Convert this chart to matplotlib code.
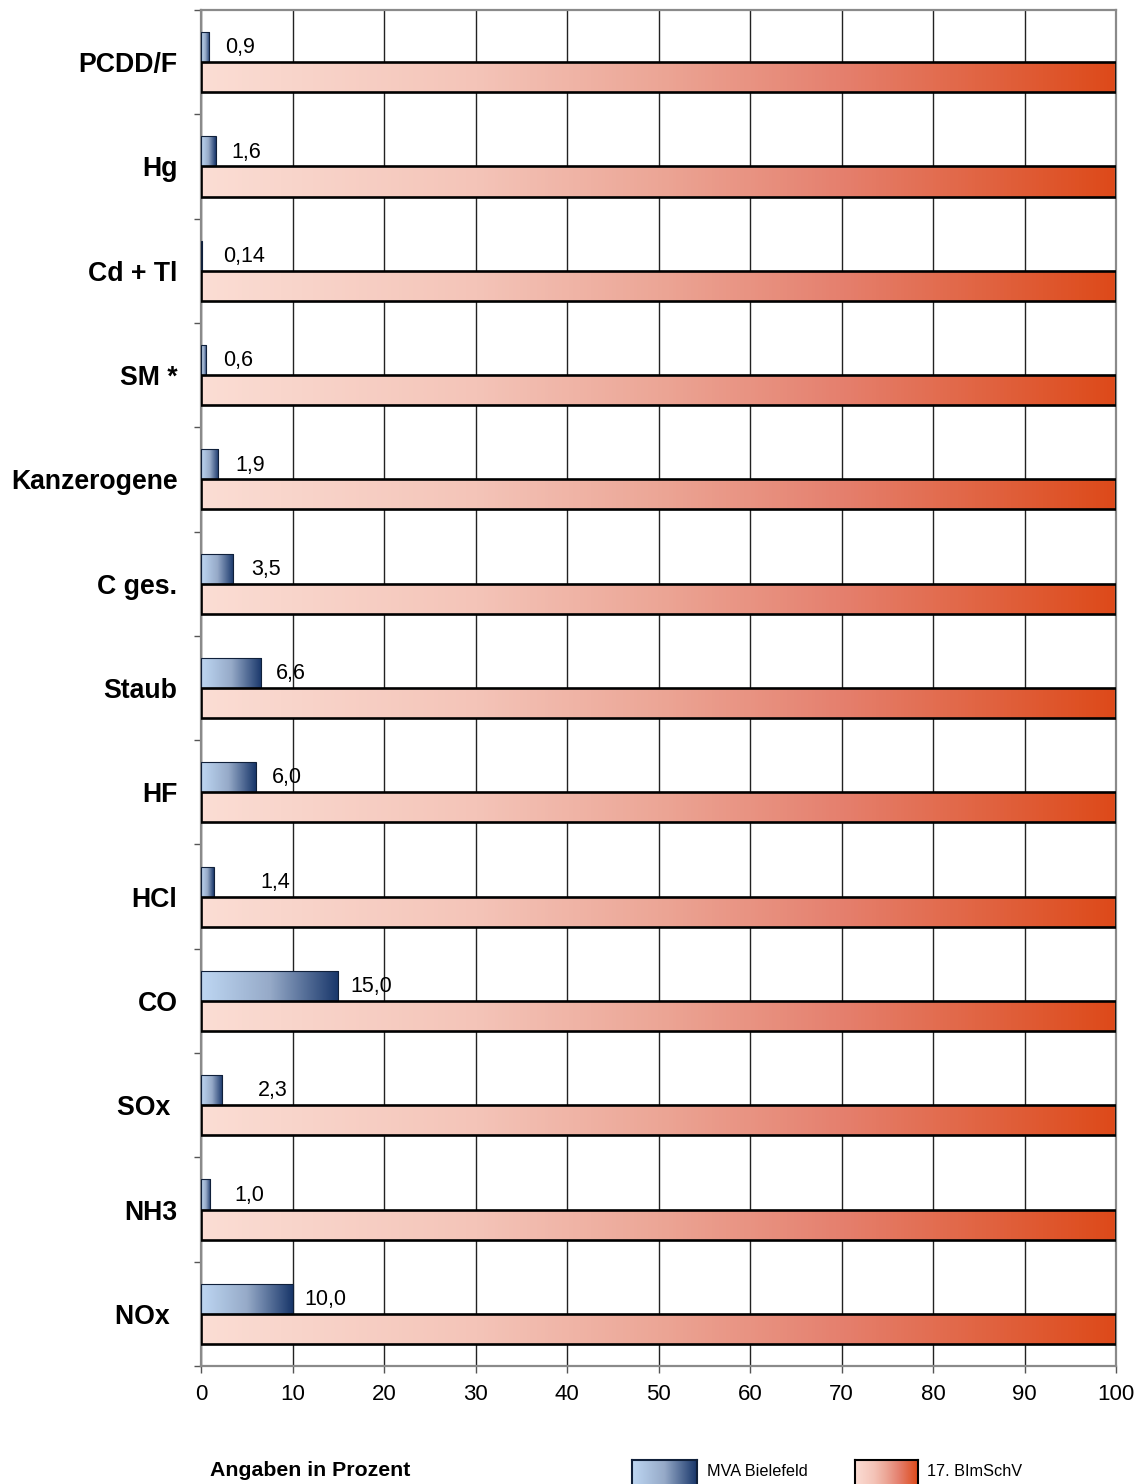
import matplotlib
matplotlib.use("Agg")
import matplotlib.pyplot as plt
import numpy as np
from matplotlib.colors import LinearSegmentedColormap
from matplotlib.ticker import FixedLocator

plt.rcParams['font.family'] = ['Liberation Sans', 'DejaVu Sans']

categories = ["PCDD/F", "Hg", "Cd + Tl", "SM *", "Kanzerogene", "C ges.", "Staub",
              "HF", "HCl", "CO", "SOx ", "NH3", "NOx "]
mva_values = [0.9, 1.6, 0.14, 0.6, 1.9, 3.5, 6.6, 6.0, 1.4, 15.0, 2.3, 1.0, 10.0]
mva_labels = ["0,9", "1,6", "0,14", "0,6", "1,9", "3,5", "6,6", "6,0", "1,4",
              "15,0", "2,3", "1,0", "10,0"]
limit_values = [100] * 13
series_names = ["MVA Bielefeld", "17. BImSchV"]
xticks = [0, 10, 20, 30, 40, 50, 60, 70, 80, 90, 100]

# layout: horizontal gap (pixels) between bar end and its value label
label_gap_px = [16, 16, 21, 16.5, 17, 18, 14, 16, 47, 12, 36, 24, 11.5]

blue_cmap = LinearSegmentedColormap.from_list(
    "blue", [(0.0, (190/255, 215/255, 243/255)), (0.5, (150/255, 170/255, 200/255)),
             (1.0, (24/255, 54/255, 106/255))])
red_cmap = LinearSegmentedColormap.from_list(
    "red", [(0.0, (251/255, 221/255, 212/255)), (0.3, (244/255, 196/255, 184/255)),
            (0.5, (236/255, 166/255, 150/255)), (0.7, (229/255, 128/255, 110/255)),
            (1.0, (221/255, 74/255, 26/255))])

W, H = 1139, 1484
fig = plt.figure(figsize=(W / 100, H / 100), dpi=100)
ax = fig.add_axes([201 / W, 1 - 1366 / H, (1116 - 201) / W, (1366 - 10) / H])

grad = np.linspace(0, 1, 256).reshape(1, -1)


def gradient_bars(bars, cmap):
    for b in bars:
        x0, y0 = b.get_x(), b.get_y()
        w, h = b.get_width(), b.get_height()
        im = ax.imshow(grad, cmap=cmap, aspect='auto', extent=(x0, x0 + w, y0 + h, y0),
                       zorder=2, interpolation='bilinear')
        im.set_clip_path(b)


y = np.arange(len(categories))
bh = 0.288
blue_bars = ax.barh(y - bh / 2, mva_values, height=bh, facecolor='none',
                    edgecolor='#10203a', linewidth=0.8, zorder=3)
red_bars = ax.barh(y + bh / 2, limit_values, height=bh, facecolor='none',
                   edgecolor='black', linewidth=1.9, zorder=3)
gradient_bars(blue_bars, blue_cmap)
gradient_bars(red_bars, red_cmap)

for yi, v, lab, gap in zip(y, mva_values, mva_labels, label_gap_px):
    ax.annotate(lab, xy=(v, yi - bh / 2), xytext=(gap * 0.72, -0.5), textcoords='offset points',
                ha='left', va='center', fontsize=15.5, color='black', zorder=4)

ax.set_xlim(0, 100)
ax.set_ylim(len(categories) - 0.5, -0.5)

ax.set_xticks(xticks)
ax.set_xticklabels([str(t) for t in xticks], fontsize=16)
ax.tick_params(axis='x', direction='out', length=5, width=1, color='#555555', pad=8)
ax.set_yticks(y)
ax.set_yticklabels(categories, fontsize=19.2, fontweight='bold')
ax.tick_params(axis='y', which='major', length=0, pad=17)
for t in ax.get_yticklabels():
    t.set_y(t.get_position()[1])
ax.yaxis.set_minor_locator(FixedLocator(np.arange(-0.5, len(categories), 1.0)))
ax.tick_params(axis='y', which='minor', direction='out', length=5, width=1, color='#555555')

ax.grid(axis='x', color='#222222', linewidth=1.0, zorder=0)
ax.set_axisbelow(True)
for s in ax.spines.values():
    s.set_color('#8a8a8a')
    s.set_linewidth(1.6)

fig.text(210 / W, 1 - 1471 / H, "Angaben in Prozent", fontsize=15.3, fontweight='bold',
         ha='left', va='center')

legend_items = [(632, 697, 707, blue_cmap, series_names[0], '#10203a'),
                (855, 918, 927, red_cmap, series_names[1], 'black')]
for x0, x1, tx, cmap, name, ec in legend_items:
    lax = fig.add_axes([x0 / W, 1 - 1492 / H, (x1 - x0) / W, 32 / H])
    lax.imshow(grad, cmap=cmap, aspect='auto', extent=(0, 1, 0, 1), interpolation='bilinear')
    lax.set_xticks([])
    lax.set_yticks([])
    for s in lax.spines.values():
        s.set_color(ec)
        s.set_linewidth(1.5)
    fig.text(tx / W, 1 - 1472 / H, name, fontsize=11.7, ha='left', va='center')

fig.savefig("out.png", dpi=100)
